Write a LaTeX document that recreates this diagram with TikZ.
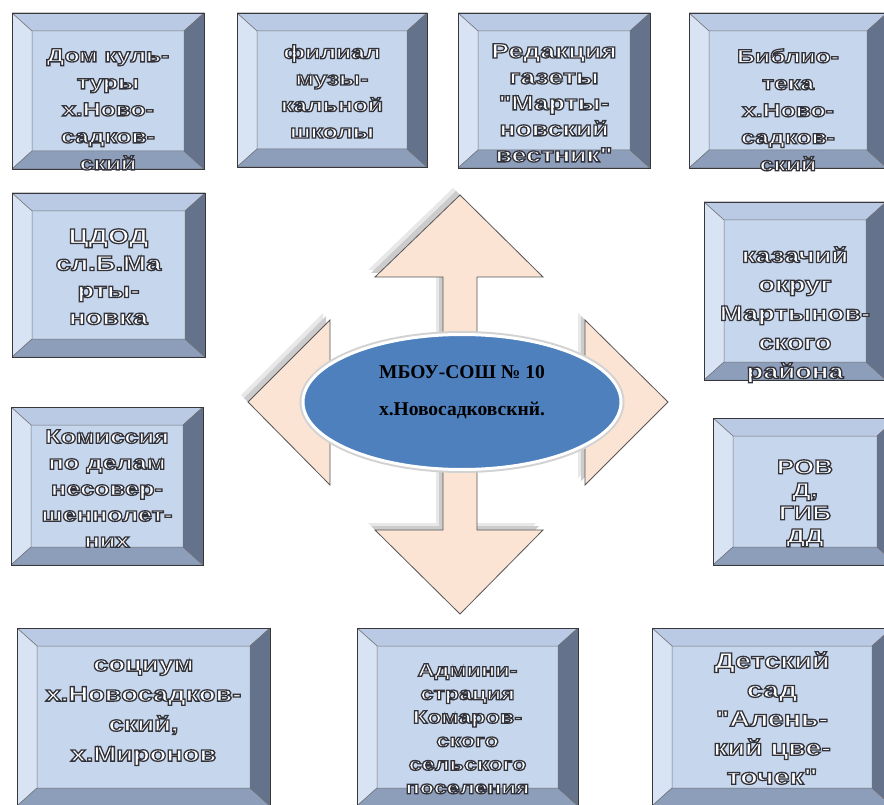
\documentclass[tikz,border=0pt]{standalone}
\usepackage{fontspec}
\usetikzlibrary{positioning,shapes.geometric}
\newfontfamily\boxfont{Liberation Sans}[FakeStretch=1.3]
\newfontfamily\schoolfont{Liberation Serif}
\definecolor{face}{RGB}{198,214,236}
\definecolor{bevtop}{RGB}{186,202,228}
\definecolor{bevleft}{RGB}{216,228,244}
\definecolor{bevbot}{RGB}{141,158,187}
\definecolor{bevright}{RGB}{100,114,140}
\definecolor{edge}{RGB}{55,55,60}
\definecolor{peach}{RGB}{251,228,212}
\definecolor{schoolblue}{RGB}{77,128,189}
% white letters with a dark rim
\newcommand{\outl}[1]{\special{pdf:literal direct 2 Tr 1.3 w 0.2 0.2 0.23 RG}#1\special{pdf:literal direct 0 Tr}}

\begin{document}
\begin{tikzpicture}[x=1pt,y=-1pt,
    frame/.style={draw=edge, line width=0.8pt, fill=face, inner sep=0pt,
      path picture={
        \coordinate (p1) at (path picture bounding box.north west);
        \coordinate (p2) at (path picture bounding box.north east);
        \coordinate (p3) at (path picture bounding box.south east);
        \coordinate (p4) at (path picture bounding box.south west);
        \coordinate (q1) at ([shift={(20pt,-18pt)}]p1);
        \coordinate (q2) at ([shift={(-20pt,-18pt)}]p2);
        \coordinate (q3) at ([shift={(-20pt,18pt)}]p3);
        \coordinate (q4) at ([shift={(20pt,18pt)}]p4);
        \path[fill=bevtop, draw=edge!70, line width=0.5pt] (p1) -- (p2) -- (q2) -- (q1) -- cycle;
        \path[fill=bevleft, draw=edge!70, line width=0.5pt] (p1) -- (q1) -- (q4) -- (p4) -- cycle;
        \path[fill=bevbot, draw=edge!70, line width=0.5pt] (p4) -- (q4) -- (q3) -- (p3) -- cycle;
        \path[fill=bevright, draw=edge!70, line width=0.5pt] (p2) -- (q2) -- (q3) -- (p3) -- cycle;
      }},
    lbl/.style 2 args={text=white, align=center, inner sep=0pt,
      font=\boxfont\bfseries\fontsize{#1}{#2}\selectfont},
    school/.style={ellipse, fill=schoolblue, draw=white, line width=3pt,
      preaction={draw=gray!35, line width=7pt},
      minimum width=318pt, minimum height=135pt, inner sep=0pt},
    schooltxt/.style={align=center, inner sep=0pt,
      font=\schoolfont\bfseries\fontsize{19.5}{37}\selectfont}]
  \useasboundingbox (0,0) rectangle (884,805);
  \clip (0,0) rectangle (884,805);

  %% the four-way arrow
  \draw[fill=peach, draw=edge!85, line width=0.8pt,
    preaction={fill=gray!18, transform canvas={shift={(-7pt,7pt)}}},
    preaction={fill=gray!40, transform canvas={shift={(-4pt,4pt)}}}]
    (460,195) -- (543,277) -- (477,277) -- (477,385) -- (585,385) -- (585,320)
    -- (668,402) -- (585,485) -- (585,419) -- (477,419) -- (477,530) -- (543,530)
    -- (460,614) -- (375,530) -- (443,530) -- (443,419) -- (330,419) -- (330,485)
    -- (248,402) -- (330,320) -- (330,385) -- (443,385) -- (443,277) -- (375,277) -- cycle;

  %% centre
  \node[school] (0) at (462,402) {};
  \node[schooltxt] (0t) at (462,392) {МБОУ-СОШ № 10\\х.Новосадковскнй.};

  %% top row
  \node[frame, minimum width=192pt, minimum height=156pt] (1) at (108,91) {};
  \node[frame, minimum width=190pt, minimum height=154pt] (2) at (332,90) {};
  \node[frame, minimum width=192pt, minimum height=155pt] (3) at (554,90.5) {};
  \node[frame, minimum width=198pt, minimum height=155pt] (4) at (788,90.5) {};
  %% sides
  \node[frame, minimum width=193pt, minimum height=164pt] (5) at (108.5,275) {};
  \node[frame, minimum width=182pt, minimum height=178pt] (6) at (795,291) {};
  \node[frame, minimum width=192pt, minimum height=158pt] (7) at (107,486) {};
  \node[frame, minimum width=184pt, minimum height=147pt] (8) at (805,491.5) {};
  %% bottom row
  \node[frame, minimum width=253pt, minimum height=178pt] (9) at (143.5,717) {};
  \node[frame, minimum width=221pt, minimum height=178pt] (10) at (467.5,717) {};
  \node[frame, minimum width=240pt, minimum height=178pt] (11) at (772,717) {};

  %% box texts
  \node[lbl={19}{27}, below=36pt of 1.north] (t1)
    {\outl{Дом куль-}\\\outl{туры}\\\outl{х.Ново-}\\\outl{садков-}\\\outl{ский}};
  \node[lbl={19}{26.5}, below=32pt of 2.north] (t2)
    {\outl{филиал}\\\outl{музы-}\\\outl{кальной}\\\outl{школы}};
  \node[lbl={20.5}{26}, below=31pt of 3.north] (t3)
    {\outl{Редакция}\\\outl{газеты}\\\outl{"Марты-}\\\outl{новский}\\\outl{вестник"}};
  \node[lbl={19}{27}, below=36pt of 4.north] (t4)
    {\outl{Библио-}\\\outl{тека}\\\outl{х.Ново-}\\\outl{садков-}\\\outl{ский}};
  \node[lbl={21}{27}, below=36pt of 5.north] (t5)
    {\outl{ЦДОД}\\\outl{сл.Б.Ма}\\\outl{рты-}\\\outl{новка}};
  \node[lbl={21}{29}, below=45pt of 6.north] (t6)
    {\outl{казачий}\\\outl{округ}\\\outl{Мартынов-}\\\outl{ского}\\\outl{района}};
  \node[lbl={19.5}{26}, below=23pt of 7.north] (t7)
    {\outl{Комиссия}\\\outl{по делам}\\\outl{несовер-}\\\outl{шеннолет-}\\\outl{них}};
  \node[lbl={20}{23}, below=42pt of 8.north] (t8)
    {\outl{РОВ}\\\outl{Д,}\\\outl{ГИБ}\\\outl{ДД}};
  \node[lbl={21}{30}, below=32pt of 9.north] (t9)
    {\outl{социум}\\\outl{х.Новосадков-}\\\outl{ский,}\\\outl{х.Миронов}};
  \node[lbl={18}{23.5}, below=36pt of 10.north] (t10)
    {\outl{Админи-}\\\outl{страция}\\\outl{Комаров-}\\\outl{ского}\\\outl{сельского}\\\outl{поселения}};
  \node[lbl={22}{29}, below=24pt of 11.north] (t11)
    {\outl{Детский}\\\outl{сад}\\\outl{"Алень-}\\\outl{кий цве-}\\\outl{точек"}};
\end{tikzpicture}
\end{document}
